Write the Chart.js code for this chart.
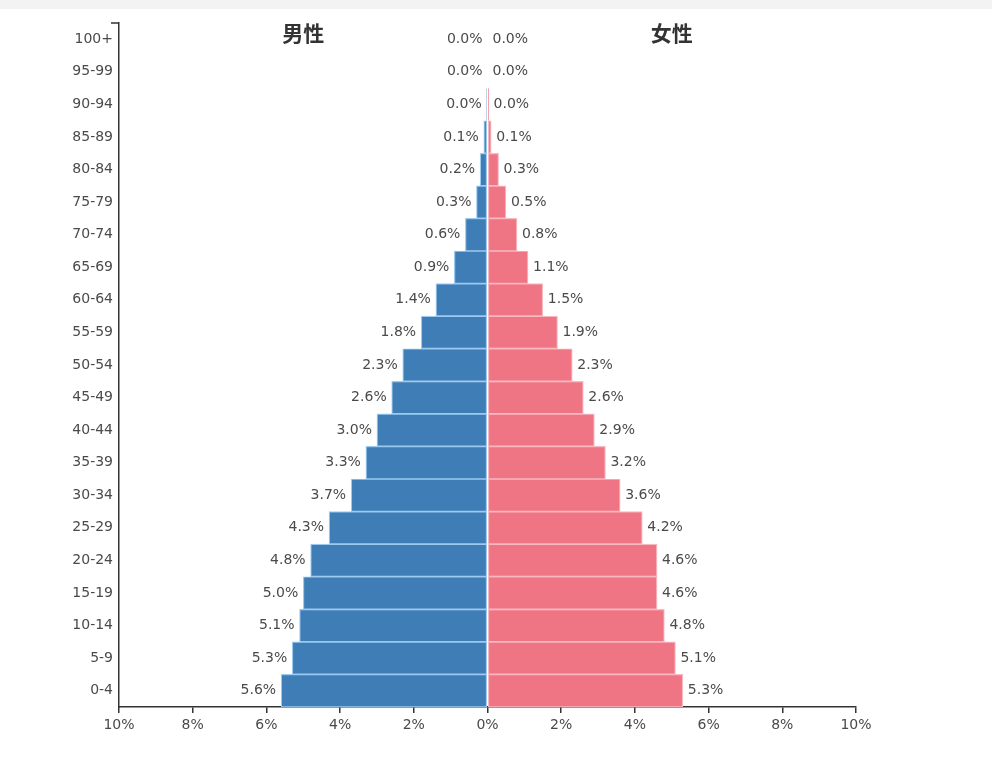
<!DOCTYPE html>
<html>
<head>
<meta charset="utf-8">
<script src="https://cdn.jsdelivr.net/npm/chart.js@4.4.1/dist/chart.umd.min.js"></script>
<style>
  html, body { margin: 0; padding: 0; }
  body { width: 992px; height: 758px; background: linear-gradient(#f3f3f3 0, #f3f3f3 9px, #fff 9px); overflow: hidden; }
  #wrap { position: relative; width: 992px; height: 758px; }
</style>
</head>
<body>
<div id="wrap"><canvas id="pyramid"></canvas></div>
<script>
// age groups, bottom to top
const ageGroups = ['0-4', '5-9', '10-14', '15-19', '20-24', '25-29', '30-34', '35-39', '40-44', '45-49',
  '50-54', '55-59', '60-64', '65-69', '70-74', '75-79', '80-84', '85-89', '90-94', '95-99', '100+'];
// share of population, % (male drawn to the left)
const maleShare = [5.6, 5.3, 5.1, 5.0, 4.8, 4.3, 3.7, 3.3, 3.0, 2.6, 2.3, 1.8, 1.4, 0.9, 0.6, 0.3, 0.2, 0.1, 0.02, 0.0, 0.0];
const femaleShare = [5.3, 5.1, 4.8, 4.6, 4.6, 4.2, 3.6, 3.2, 2.9, 2.6, 2.3, 1.9, 1.5, 1.1, 0.8, 0.5, 0.3, 0.1, 0.03, 0.0, 0.0];
const sideTitles = ['男性', '女性'];
const xTicks = [-10, -8, -6, -4, -2, 0, 2, 4, 6, 8, 10];

const FONT = 'DejaVu Sans';
const TXT = '#4a4a4a';

// value labels at bar ends + side titles + top tick of the age axis
const pyramidDecor = {
  id: 'pyramidDecor',
  afterDatasetsDraw(chart) {
    const { ctx, scales: { x, y }, chartArea } = chart;
    ctx.save();
    ctx.font = `14px "${FONT}"`;
    ctx.fillStyle = TXT;
    ctx.textBaseline = 'middle';
    chart.data.datasets.forEach((ds, di) => {
      const meta = chart.getDatasetMeta(di);
      meta.data.forEach((bar, i) => {
        const v = Math.abs(ds.data[i]);
        const txt = v.toFixed(1) + '%';
        if (di === 0) { ctx.textAlign = 'right'; ctx.fillText(txt, bar.x - 5, bar.y); }
        else { ctx.textAlign = 'left'; ctx.fillText(txt, bar.x + 5, bar.y); }
      });
    });
    ctx.font = `bold 21px "Noto Sans CJK SC"`;
    ctx.fillStyle = '#333';
    ctx.textAlign = 'center';
    ctx.fillText(sideTitles[0], x.getPixelForValue(-5), 33);
    ctx.fillText(sideTitles[1], x.getPixelForValue(5), 33);
    // short tick at the top end of the age axis
    ctx.strokeStyle = '#333';
    ctx.lineWidth = 1.5;
    ctx.beginPath();
    ctx.moveTo(chartArea.left - 8, chartArea.top);
    ctx.lineTo(chartArea.left, chartArea.top);
    ctx.stroke();
    ctx.restore();
  }
};

new Chart(document.getElementById('pyramid'), {
  type: 'bar',
  data: {
    labels: ageGroups,
    datasets: [
      { label: sideTitles[0], data: maleShare.map((v) => -v), backgroundColor: '#3e7db6', borderColor: '#9dcbef', borderWidth: 1.2, borderSkipped: false, barPercentage: 1, categoryPercentage: 1 },
      { label: sideTitles[1], data: femaleShare, backgroundColor: '#ef7584', borderColor: '#f7b8c0', borderWidth: 1.2, borderSkipped: false, barPercentage: 1, categoryPercentage: 1 },
    ],
  },
  options: {
    indexAxis: 'y',
    responsive: true,
    maintainAspectRatio: false,
    animation: false,
    layout: { padding: { top: 23, right: 136, left: 0, bottom: 0 } },
    plugins: { legend: { display: false }, tooltip: { enabled: false } },
    scales: {
      x: {
        stacked: true,
        min: -10, max: 10,
        afterBuildTicks: (s) => { s.ticks = xTicks.map((v) => ({ value: v })); },
        afterFit: (s) => { s.height = 51; },
        grid: { drawOnChartArea: false, drawTicks: true, tickLength: 6, color: '#333', lineWidth: 1.5 },
        border: { display: true, color: '#333', width: 1.5 },
        ticks: { color: TXT, font: { family: FONT, size: 14 }, padding: 4, maxRotation: 0, callback: (v) => Math.abs(v) + '%' },
      },
      y: {
        stacked: true,
        reverse: true,
        afterFit: (s) => { s.width = 119; },
        grid: { display: false, drawTicks: false },
        border: { display: true, color: '#333', width: 1.5 },
        ticks: { color: TXT, font: { family: FONT, size: 14 }, padding: 6, autoSkip: false },
      },
    },
  },
  plugins: [pyramidDecor],
});
</script>
</body>
</html>
